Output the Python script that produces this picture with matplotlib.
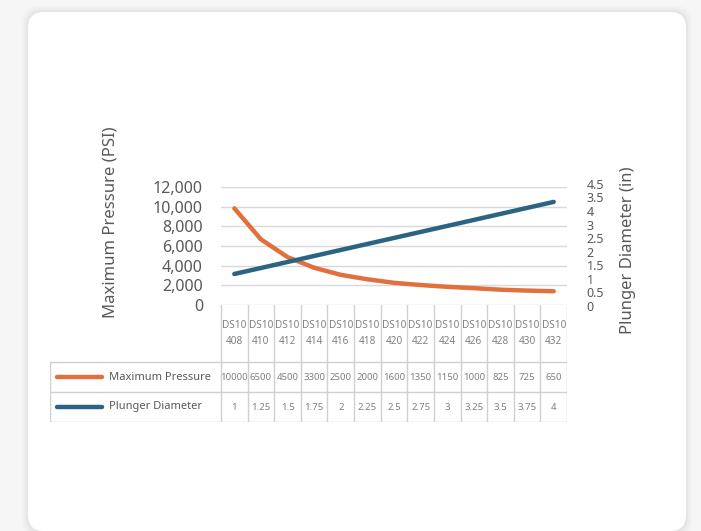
import matplotlib
matplotlib.use('Agg')
from matplotlib import pyplot as plt
from matplotlib.patches import FancyBboxPatch

# data
models = ['408', '410', '412', '414', '416', '418', '420',
          '422', '424', '426', '428', '430', '432']
prefix = 'DS10'
pressure = [10000, 6500, 4500, 3300, 2500, 2000, 1600,
            1350, 1150, 1000, 825, 725, 650]
plunger = [1, 1.25, 1.5, 1.75, 2, 2.25, 2.5, 2.75, 3, 3.25, 3.5, 3.75, 4]
pressure_txt = ['10000', '6500', '4500', '3300', '2500', '2000', '1600',
                '1350', '1150', '1000', '825', '725', '650']
plunger_txt = ['1', '1.25', '1.5', '1.75', '2', '2.25', '2.5',
               '2.75', '3', '3.25', '3.5', '3.75', '4']
left_ticks = [0, 2000, 4000, 6000, 8000, 10000, 12000]
# right axis labels as they appear (bottom to top)
right_labels = ['0', '0.5', '1', '1.5', '2', '2.5', '3', '4', '3.5', '4.5']

ORANGE = '#E2703F'
BLUE = '#2A6482'
TXT = '#595959'
TXT2 = '#808080'
GRID = '#d9d9d9'
FONT = 'Noto Sans'

W, H = 701, 531
fig = plt.figure(figsize=(W / 100, H / 100), dpi=100)
fig.patch.set_facecolor('#f6f6f6')


def px(x0, y0, x1, y1):
    # pixel box (top-left origin) -> figure fraction rect
    return [x0 / W, 1 - y1 / H, (x1 - x0) / W, (y1 - y0) / H]


# card with soft shadow
for grow, a in [(6, 0.015), (4, 0.02), (2, 0.03)]:
    fig.patches.append(FancyBboxPatch((28 - grow, 0 - grow), 658 + 2 * grow, 519 + 2 * grow,
                                      boxstyle='round,pad=0,rounding_size=16',
                                      transform=None, facecolor='black', alpha=a,
                                      edgecolor='none', zorder=-5))
fig.patches.append(FancyBboxPatch((28, 0), 658, 519,
                                  boxstyle='round,pad=0,rounding_size=16',
                                  transform=None, facecolor='white',
                                  edgecolor='none', zorder=-4))

n = len(models)
ax = fig.add_axes(px(221, 187, 567, 305))
ax.set_xlim(-0.5, n - 0.5)
ax.set_ylim(0, 12000)
ax.set_facecolor('none')
ax.set_yticks(left_ticks)
ax.set_yticklabels(['{:,}'.format(v) for v in left_ticks], fontsize=11.5,
                   color=TXT, family=FONT)
ax.tick_params(axis='y', length=0, pad=13)
ax.set_xticks([])
ax.grid(axis='y', color=GRID, lw=1)
for s in ax.spines.values():
    s.set_visible(False)
ax.set_ylabel('Maximum Pressure (PSI)', fontsize=12, color=TXT, family=FONT,
              va='center')
ax.yaxis.set_label_coords(-0.32, 0.70)

ax_o = ax.twinx()
ax_o.set_ylim(-900, 12400)
ax_o.plot(range(n), pressure, color=ORANGE, lw=3.2, solid_capstyle='round')
ax_o.axis('off')

ax_b = ax.twinx()
ax_b.set_ylim(-0.29, 4.62)
ax_b.plot(range(n), plunger, color=BLUE, lw=3.2, solid_capstyle='round')
ax_b.axis('off')

# right-hand labels sit on their own, slightly taller box
ax_r = fig.add_axes(px(221, 180, 567, 310))
ax_r.set_facecolor('none')
ax_r.set_ylim(-0.295, 9.29)
ax_r.set_xticks([])
ax_r.yaxis.tick_right()
ax_r.yaxis.set_label_position('right')
ax_r.set_yticks(range(len(right_labels)))
ax_r.set_yticklabels(right_labels, fontsize=9, color=TXT, family=FONT)
ax_r.tick_params(axis='y', length=0, pad=14)
for s in ax_r.spines.values():
    s.set_visible(False)
ax_r.set_ylabel('Plunger Diameter (in)', fontsize=12, color=TXT, family=FONT,
                va='center', rotation=90)
ax_r.yaxis.set_label_coords(1.176, 0.46)

# data table under the chart
tb = fig.add_axes(px(50, 305, 567, 422))
col_w = (567 - 221) / n
left_edge = -0.5 - (221 - 50) / col_w
tb.set_xlim(left_edge, n - 0.5)
tb.set_ylim(117, 0)
tb.axis('off')
rows = [0, 57, 87, 117]
LC = '#d0d0d0'
for i in range(n + 1):
    tb.plot([i - 0.5, i - 0.5], [rows[0], rows[3]], color=LC, lw=1)
for r in rows[1:]:
    tb.plot([left_edge, n - 0.5], [r, r], color=LC, lw=1)
tb.plot([left_edge, left_edge], [rows[1], rows[3]], color=LC, lw=1)
for i, m in enumerate(models):
    tb.text(i, 21, prefix, ha='center', va='center', fontsize=7.2, color=TXT2, family=FONT)
    tb.text(i, 37, m, ha='center', va='center', fontsize=7.2, color=TXT2, family=FONT)
    tb.text(i, 72, pressure_txt[i], ha='center', va='center', fontsize=6.9,
            color=TXT2, family=FONT)
    tb.text(i, 102, plunger_txt[i], ha='center', va='center', fontsize=6.9,
            color=TXT2, family=FONT)
for y, c, lab in [(72, ORANGE, 'Maximum Pressure'), (102, BLUE, 'Plunger Diameter')]:
    tb.plot([left_edge + 0.25, left_edge + 1.95], [y, y], color=c, lw=3.2,
            solid_capstyle='round')
    tb.text(left_edge + 2.2, y, lab, ha='left', va='center', fontsize=8,
            color=TXT, family=FONT)

fig.savefig('out.png', dpi=100, facecolor=fig.get_facecolor())
